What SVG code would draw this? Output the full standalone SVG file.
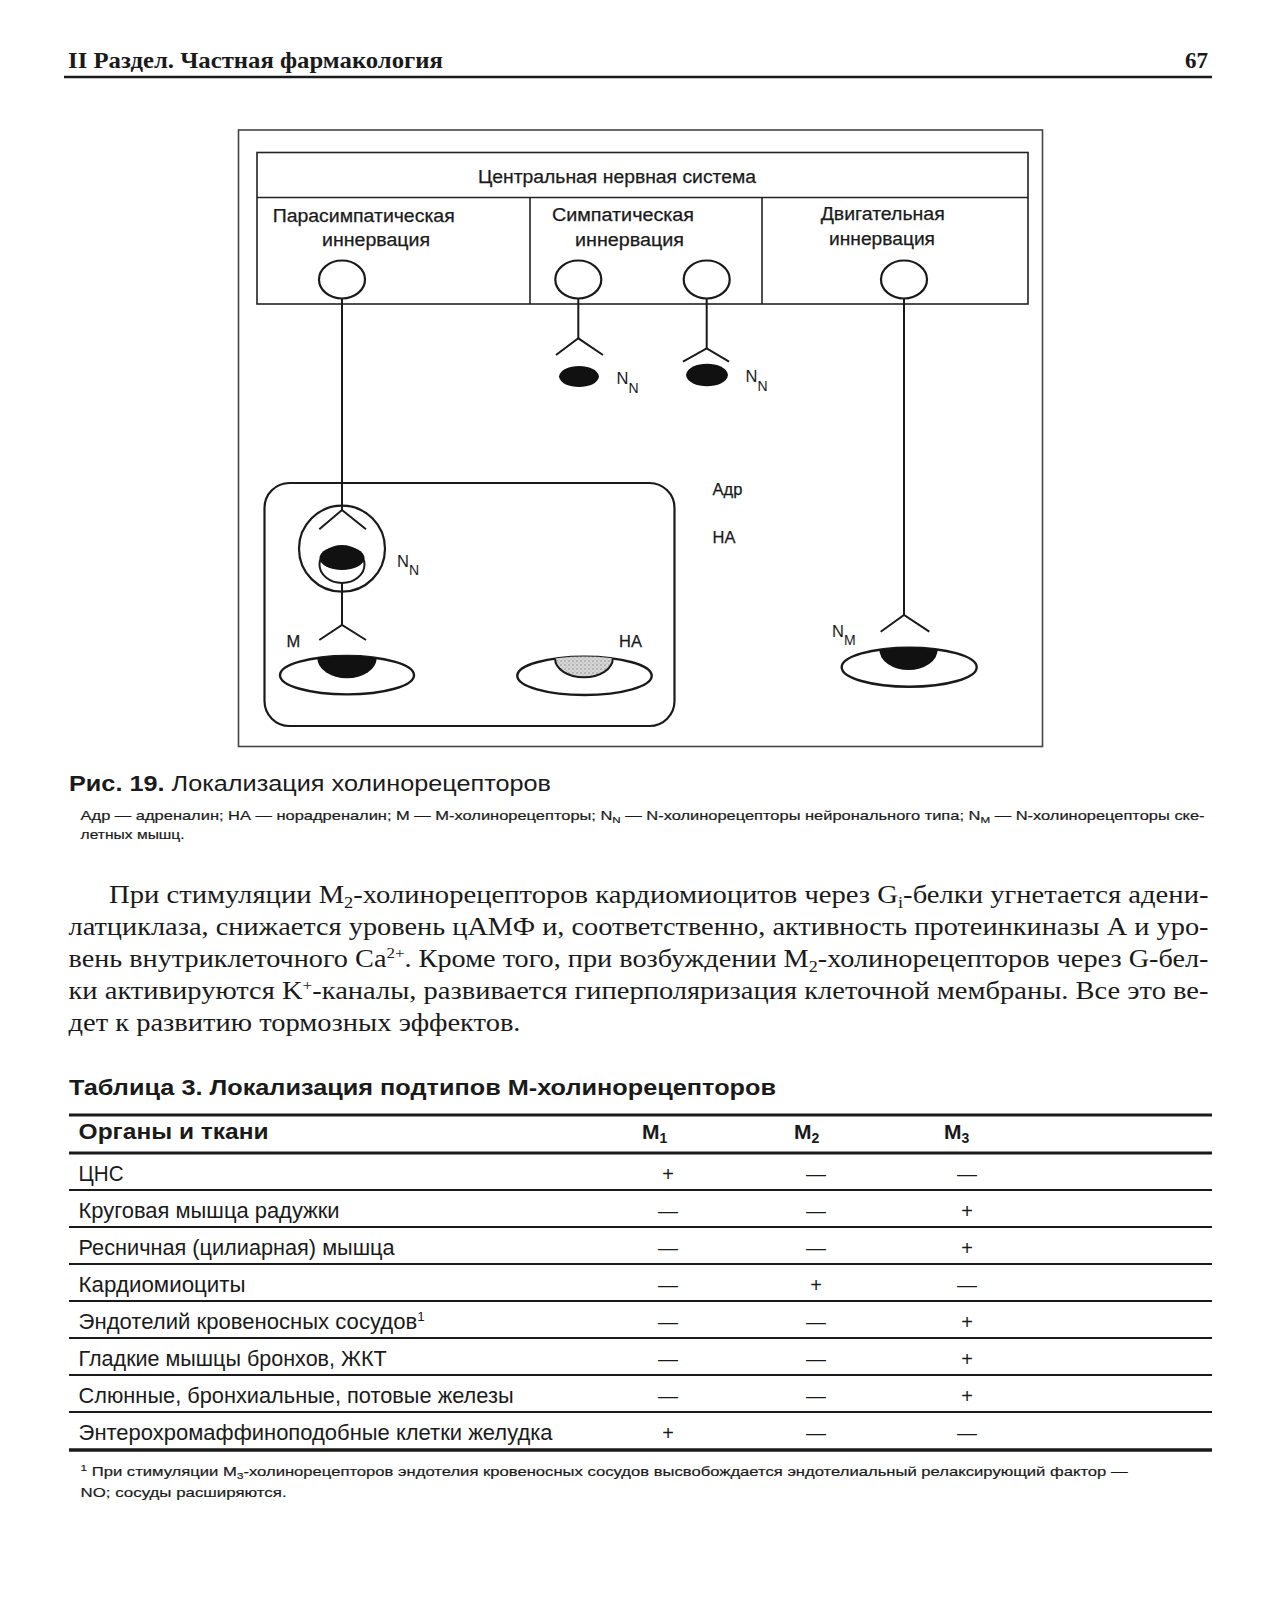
<svg xmlns="http://www.w3.org/2000/svg" width="1281" height="1600" viewBox="0 0 1281 1600">
<defs>
<style>
.sans{font-family:"Liberation Sans",Arial,sans-serif;fill:#1a1a1a}
.serif{font-family:"Liberation Serif","Times New Roman",serif;fill:#1a1a1a}
.lbl{font-size:18px;stroke:#1a1a1a;stroke-width:0.25}
.ln{stroke:#1a1a1a;stroke-width:2;fill:none}
.box{stroke:#222;stroke-width:1.6;fill:none}
.soma{stroke:#1a1a1a;stroke-width:2.2;fill:#fff}
.cell{stroke:#1a1a1a;stroke-width:2.4;fill:#fff}
.row{font-size:21.5px}
.sign{font-size:20px;text-anchor:middle}
.body{font-size:25px}
</style>
<pattern id="stipple" width="4" height="4" patternUnits="userSpaceOnUse">
<rect width="4" height="4" fill="#d6d6d6"/>
<circle cx="1" cy="1" r="0.7" fill="#7a7a7a"/>
<circle cx="3" cy="3" r="0.5" fill="#9a9a9a"/>
</pattern>
<clipPath id="c1"><ellipse cx="347" cy="675.2" rx="67" ry="19.2"/></clipPath>
<clipPath id="c2"><ellipse cx="584.5" cy="675.8" rx="67.2" ry="19.2"/></clipPath>
<clipPath id="c3"><ellipse cx="909.2" cy="667.2" rx="67.5" ry="19.5"/></clipPath>
</defs>
<rect width="1281" height="1600" fill="#fff"/>

<g id="page-header">
<text class="serif" x="68" y="68" font-size="23" font-weight="bold" textLength="375" lengthAdjust="spacingAndGlyphs">II Раздел. Частная фармакология</text>
<text class="serif" x="1208" y="68" font-size="23" font-weight="bold" text-anchor="end">67</text>
<line x1="64" y1="77" x2="1212" y2="77" stroke="#1a1a1a" stroke-width="2.5"/>
</g>

<g id="figure-frame">
<rect x="238.5" y="130" width="804" height="616.5" fill="none" stroke="#444" stroke-width="1.6"/>
</g>

<g id="cns-box">
<rect class="box" x="257" y="152.5" width="771" height="151.5"/>
<line class="box" x1="257" y1="197.5" x2="1028" y2="197.5"/>
<line class="box" x1="530" y1="197.5" x2="530" y2="304"/>
<line class="box" x1="762" y1="197.5" x2="762" y2="304"/>
<text class="sans lbl" x="478" y="183" textLength="278" lengthAdjust="spacingAndGlyphs">Центральная нервная система</text>
</g>

<g id="parasympathetic-label">
<text class="sans lbl" x="272.7" y="221.5" textLength="182" lengthAdjust="spacingAndGlyphs">Парасимпатическая</text>
<text class="sans lbl" x="322" y="246" textLength="108" lengthAdjust="spacingAndGlyphs">иннервация</text>
</g>
<g id="sympathetic-label">
<text class="sans lbl" x="552" y="221" textLength="142" lengthAdjust="spacingAndGlyphs">Симпатическая</text>
<text class="sans lbl" x="575" y="245.5" textLength="109" lengthAdjust="spacingAndGlyphs">иннервация</text>
</g>
<g id="motor-label">
<text class="sans lbl" x="820.7" y="220" textLength="124" lengthAdjust="spacingAndGlyphs">Двигательная</text>
<text class="sans lbl" x="829" y="245" textLength="106" lengthAdjust="spacingAndGlyphs">иннервация</text>
</g>

<g id="connectors">
<line class="ln" x1="342" y1="298" x2="342" y2="510"/>
<polyline class="ln" points="319.3,529.3 342,510 366,529.3"/>
<line class="ln" x1="342" y1="583" x2="342" y2="625"/>
<polyline class="ln" points="319.3,640 342,625 366,640"/>
<line class="ln" x1="578.3" y1="298" x2="578.3" y2="338.3"/>
<polyline class="ln" points="556,355 578.3,338.3 603,355"/>
<line class="ln" x1="706.7" y1="298" x2="706.7" y2="348.3"/>
<polyline class="ln" points="683,361.7 706.7,348.3 729,361.7"/>
<line class="ln" x1="904" y1="298" x2="904" y2="615"/>
<polyline class="ln" points="880.7,631.7 904,615 929.3,631.7"/>
</g>

<g id="neuron-para"><ellipse class="soma" cx="342" cy="279.5" rx="23" ry="19"/></g>
<g id="neuron-symp-1"><ellipse class="soma" cx="578.3" cy="279.5" rx="23" ry="19"/></g>
<g id="neuron-symp-2"><ellipse class="soma" cx="706.7" cy="279.5" rx="23" ry="19"/></g>
<g id="neuron-motor"><ellipse class="soma" cx="904" cy="279.5" rx="23" ry="19"/></g>

<g id="receptor-nn-1">
<path d="M559,376.5 C561,362.5 597,362.5 599,376.5 C597,390.5 561,390.5 559,376.5 Z" fill="#111"/>
<text class="sans" x="616.5" y="383.5" font-size="16.5">N</text>
<text class="sans" x="628.5" y="392.5" font-size="14">N</text>
</g>
<g id="receptor-nn-2">
<path d="M686,375 C688,360 726,360 728,375 C726,390 688,390 686,375 Z" fill="#111"/>
<text class="sans" x="745.5" y="382" font-size="16.5">N</text>
<text class="sans" x="757.5" y="391" font-size="14">N</text>
</g>

<g id="organ-box">
<rect x="264.5" y="483" width="410" height="243" rx="25" ry="25" fill="none" stroke="#1a1a1a" stroke-width="2.2"/>
</g>

<g id="ganglion">
<circle cx="342" cy="548.7" r="43" fill="none" stroke="#1a1a1a" stroke-width="2.2"/>
<ellipse cx="342" cy="564.5" rx="22.5" ry="18.5" fill="#fff" stroke="#1a1a1a" stroke-width="2"/>
<ellipse cx="342" cy="558" rx="22.5" ry="12" fill="#111"/>
<text class="sans" x="397" y="566.5" font-size="16.5">N</text>
<text class="sans" x="409" y="574.5" font-size="14">N</text>
</g>

<g id="cell-m">
<ellipse class="cell" cx="347" cy="675.2" rx="67" ry="19.2"/>
<path clip-path="url(#c1)" d="M317.3,650 L376.7,650 L376.7,658 A29.7 20.3 0 0 1 317.3,658 Z" fill="#111"/>
<text class="sans" x="286.5" y="646.7" font-size="16.5" stroke="#1a1a1a" stroke-width="0.25">М</text>
</g>
<g id="cell-na">
<ellipse class="cell" cx="584.5" cy="675.8" rx="67.2" ry="19.2"/>
<path clip-path="url(#c2)" d="M555,650 L612.8,650 L612.8,658.5 A28.9 18.8 0 0 1 555,658.5 Z" fill="url(#stipple)" stroke="#1a1a1a" stroke-width="2"/>
<text class="sans" x="619" y="647.3" font-size="16.5" stroke="#1a1a1a" stroke-width="0.25">НА</text>
</g>
<g id="cell-nm">
<ellipse class="cell" cx="909.2" cy="667.2" rx="67.5" ry="19.5"/>
<path clip-path="url(#c3)" d="M879.3,642 L937.7,642 L937.7,649.6 A29.2 20.4 0 0 1 879.3,649.6 Z" fill="#111"/>
<text class="sans" x="832" y="637" font-size="16.5">N</text>
<text class="sans" x="844" y="645" font-size="14">M</text>
</g>

<g id="hormones">
<text class="sans" x="712.5" y="495" font-size="16.5" stroke="#1a1a1a" stroke-width="0.25">Адр</text>
<text class="sans" x="712.5" y="542.7" font-size="16.5" stroke="#1a1a1a" stroke-width="0.25">НА</text>
</g>

<g id="caption">
<text class="sans" x="69" y="791" font-size="22.5" textLength="482" lengthAdjust="spacingAndGlyphs"><tspan font-weight="bold">Рис. 19.</tspan> Локализация холинорецепторов</text>
<text class="sans" x="80.6" y="819.5" font-size="13.5" stroke="#1a1a1a" stroke-width="0.2" textLength="1124" lengthAdjust="spacingAndGlyphs">Адр — адреналин; НА — норадреналин; М — М-холинорецепторы; N<tspan font-size="9.5" dy="3">N</tspan><tspan dy="-3"> — N-холинорецепторы нейронального типа; N</tspan><tspan font-size="9.5" dy="3">M</tspan><tspan dy="-3"> — N-холинорецепторы ске-</tspan></text>
<text class="sans" x="80.6" y="839" font-size="13.5" stroke="#1a1a1a" stroke-width="0.2" textLength="104" lengthAdjust="spacingAndGlyphs">летных мышц.</text>
</g>

<g id="body-text">
<text class="serif body" x="109" y="903" textLength="1099.5" lengthAdjust="spacingAndGlyphs">При стимуляции M<tspan font-size="16" dy="5">2</tspan><tspan dy="-5">-холинорецепторов кардиомиоцитов через G</tspan><tspan font-size="16" dy="5">i</tspan><tspan dy="-5">-белки угнетается адени-</tspan></text>
<text class="serif body" x="68.5" y="935" textLength="1140" lengthAdjust="spacingAndGlyphs">латциклаза, снижается уровень цАМФ и, соответственно, активность протеинкиназы А и уро-</text>
<text class="serif body" x="68.5" y="967" textLength="1140" lengthAdjust="spacingAndGlyphs">вень внутриклеточного Ca<tspan font-size="15" dy="-9">2+</tspan><tspan dy="9">. Кроме того, при возбуждении M</tspan><tspan font-size="16" dy="5">2</tspan><tspan dy="-5">-холинорецепторов через G-бел-</tspan></text>
<text class="serif body" x="68.5" y="999" textLength="1140" lengthAdjust="spacingAndGlyphs">ки активируются K<tspan font-size="15" dy="-9">+</tspan><tspan dy="9">-каналы, развивается гиперполяризация клеточной мембраны. Все это ве-</tspan></text>
<text class="serif body" x="68.5" y="1031" textLength="452" lengthAdjust="spacingAndGlyphs">дет к развитию тормозных эффектов.</text>
</g>

<g id="table">
<text class="sans" x="69" y="1095" font-size="22.5" font-weight="bold" textLength="707" lengthAdjust="spacingAndGlyphs">Таблица 3. Локализация подтипов М-холинорецепторов</text>
<line x1="69" y1="1115" x2="1212" y2="1115" stroke="#1a1a1a" stroke-width="3.2"/>
<text class="sans" x="78.6" y="1139" font-size="22.5" font-weight="bold" textLength="190" lengthAdjust="spacingAndGlyphs">Органы и ткани</text>
<text class="sans" x="642" y="1139" font-size="21" font-weight="bold">M<tspan font-size="14" dy="4">1</tspan></text>
<text class="sans" x="794" y="1139" font-size="21" font-weight="bold">M<tspan font-size="14" dy="4">2</tspan></text>
<text class="sans" x="944" y="1139" font-size="21" font-weight="bold">M<tspan font-size="14" dy="4">3</tspan></text>
<line x1="69" y1="1153" x2="1212" y2="1153" stroke="#1a1a1a" stroke-width="2.8"/>
<g stroke="#1a1a1a" stroke-width="1.8">
<line x1="69" y1="1190" x2="1212" y2="1190"/>
<line x1="69" y1="1227" x2="1212" y2="1227"/>
<line x1="69" y1="1264" x2="1212" y2="1264"/>
<line x1="69" y1="1301" x2="1212" y2="1301"/>
<line x1="69" y1="1338" x2="1212" y2="1338"/>
<line x1="69" y1="1375" x2="1212" y2="1375"/>
<line x1="69" y1="1412" x2="1212" y2="1412"/>
</g>
<line x1="69" y1="1450" x2="1212" y2="1450" stroke="#1a1a1a" stroke-width="3.4"/>
<g class="sans row">
<text x="78.6" y="1181" textLength="45" lengthAdjust="spacingAndGlyphs">ЦНС</text>
<text x="78.6" y="1218" textLength="261" lengthAdjust="spacingAndGlyphs">Круговая мышца радужки</text>
<text x="78.6" y="1255" textLength="316" lengthAdjust="spacingAndGlyphs">Ресничная (цилиарная) мышца</text>
<text x="78.6" y="1292" textLength="167" lengthAdjust="spacingAndGlyphs">Кардиомиоциты</text>
<text x="78.6" y="1329" textLength="346" lengthAdjust="spacingAndGlyphs">Эндотелий кровеносных сосудов<tspan font-size="13" dy="-8">1</tspan></text>
<text x="78.6" y="1366" textLength="308" lengthAdjust="spacingAndGlyphs">Гладкие мышцы бронхов, ЖКТ</text>
<text x="78.6" y="1403" textLength="435" lengthAdjust="spacingAndGlyphs">Слюнные, бронхиальные, потовые железы</text>
<text x="78.6" y="1440" textLength="474" lengthAdjust="spacingAndGlyphs">Энтерохромаффиноподобные клетки желудка</text>
</g>
<g class="sans sign">
<text x="668" y="1181">+</text><text x="816" y="1181">—</text><text x="967" y="1181">—</text>
<text x="668" y="1218">—</text><text x="816" y="1218">—</text><text x="967" y="1218">+</text>
<text x="668" y="1255">—</text><text x="816" y="1255">—</text><text x="967" y="1255">+</text>
<text x="668" y="1292">—</text><text x="816" y="1292">+</text><text x="967" y="1292">—</text>
<text x="668" y="1329">—</text><text x="816" y="1329">—</text><text x="967" y="1329">+</text>
<text x="668" y="1366">—</text><text x="816" y="1366">—</text><text x="967" y="1366">+</text>
<text x="668" y="1403">—</text><text x="816" y="1403">—</text><text x="967" y="1403">+</text>
<text x="668" y="1440">+</text><text x="816" y="1440">—</text><text x="967" y="1440">—</text>
</g>
</g>

<g id="footnote">
<text class="sans" x="80.6" y="1476" font-size="13.5" stroke="#1a1a1a" stroke-width="0.2" textLength="1047" lengthAdjust="spacingAndGlyphs"><tspan font-size="9.5" dy="-5">1</tspan><tspan dy="5"> При стимуляции M</tspan><tspan font-size="9.5" dy="3">3</tspan><tspan dy="-3">-холинорецепторов эндотелия кровеносных сосудов высвобождается эндотелиальный релаксирующий фактор —</tspan></text>
<text class="sans" x="80.6" y="1497" font-size="13.5" stroke="#1a1a1a" stroke-width="0.2" textLength="206" lengthAdjust="spacingAndGlyphs">NO; сосуды расширяются.</text>
</g>
</svg>
